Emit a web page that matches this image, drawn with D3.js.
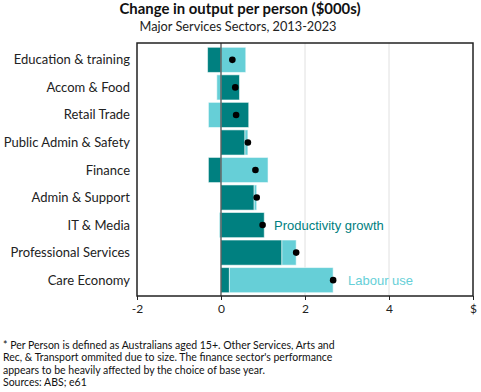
<!DOCTYPE html>
<html>
<head>
<meta charset="utf-8">
<script src="https://cdn.jsdelivr.net/npm/d3@7"></script>
<style>
  html, body { margin: 0; padding: 0; background: #fff; }
  svg { display: block; font-family: Lato, "Open Sans", sans-serif; }
</style>
</head>
<body>
<svg id="chart" width="481" height="392"></svg>
<script>
const categories = ["Education & training", "Accom & Food", "Retail Trade", "Public Admin & Safety", "Finance", "Admin & Support", "IT & Media", "Professional Services", "Care Economy"];
const productivity = [-0.32, 0.44, 0.66, 0.57, -0.30, 0.79, 1.03, 1.45, 0.20];
const labourUse = [0.59, -0.10, -0.30, 0.07, 1.12, 0.06, -0.04, 0.34, 2.47];
const seriesNames = ["Productivity growth", "Labour use"];
const xTicks = [-2, 0, 2, 4, 6];
const xTickLabels = ["-2", "0", "2", "4", "$"];
const footnote = [
  "* Per Person is defined as Australians aged 15+. Other Services, Arts and",
  "Rec, & Transport ommited due to size. The finance sector's performance",
  "appears to be heavily affected by the choice of base year.",
  "Sources: ABS; e61"
];

const colors = {"Productivity growth": "#008080", "Labour use": "#66cfd7"};

const svg = d3.select("#chart");
const W = 481, H = 392;
const m = {left: 137, right: 8, top: 43, bottom: 96};
const x = d3.scaleLinear().domain([-2, 6]).range([m.left, W - m.right]);
const y = d3.scaleBand().domain(categories).range([46.1, 293.9]).paddingInner(0.087).paddingOuter(0.0435);

const rows = categories.map((c, i) => ({cat: c, "Productivity growth": productivity[i], "Labour use": labourUse[i]}));
const stack = d3.stack().keys(seriesNames).offset(d3.stackOffsetDiverging);
const stacked = stack(rows);

// Title
svg.append("text").attr("x", 240).attr("y", 14).attr("text-anchor", "middle")
  .attr("font-size", 14.9).attr("font-weight", "bold").attr("fill", "#111")
  .text("Change in output per person ($000s)");
svg.append("text").attr("x", 238).attr("y", 31).attr("text-anchor", "middle")
  .attr("font-size", 12.75).attr("fill", "#222")
  .text("Major Services Sectors, 2013-2023");

// gridlines
svg.append("g").selectAll("line").data([2, 4]).join("line")
  .attr("x1", d => x(d)).attr("x2", d => x(d))
  .attr("y1", m.top).attr("y2", H - m.bottom)
  .attr("stroke", "#e0e0e0").attr("stroke-width", 1);

// bars
svg.append("g").selectAll("g").data(stacked).join("g")
  .attr("fill", d => colors[d.key])
  .selectAll("rect").data(d => d).join("rect")
  .attr("x", d => x(Math.min(d[0], d[1])))
  .attr("width", d => Math.abs(x(d[1]) - x(d[0])))
  .attr("y", d => y(d.data.cat))
  .attr("height", y.bandwidth())
  .attr("stroke", "rgba(255,255,255,0.55)").attr("stroke-width", 1);

// zero line
svg.append("line").attr("x1", x(0)).attr("x2", x(0))
  .attr("y1", m.top).attr("y2", H - m.bottom)
  .attr("stroke", "#444").attr("stroke-width", 1.2);

// dots (totals)
svg.append("g").selectAll("circle").data(rows).join("circle")
  .attr("cx", d => x(d["Productivity growth"] + d["Labour use"]))
  .attr("cy", d => y(d.cat) + y.bandwidth() / 2)
  .attr("r", 3.3).attr("fill", "#000");

// frame
svg.append("rect").attr("x", m.left).attr("y", m.top)
  .attr("width", W - m.left - m.right).attr("height", H - m.top - m.bottom)
  .attr("fill", "none").attr("stroke", "#222").attr("stroke-width", 1.5);

// x axis
const xAxis = d3.axisBottom(x).tickValues(xTicks).tickFormat((d, i) => xTickLabels[i]).tickSize(4).tickSizeOuter(0);
const gx = svg.append("g").attr("transform", `translate(0,${H - m.bottom})`).call(xAxis);
gx.select(".domain").remove();
gx.selectAll("line").attr("stroke", "#222");
gx.selectAll("text").attr("font-size", 12).attr("fill", "#222").attr("font-family", "Lato, sans-serif").attr("dy", "0.8em");

// y labels
svg.append("g").selectAll("text").data(categories).join("text")
  .attr("x", 130).attr("y", d => y(d) + y.bandwidth() / 2)
  .attr("dy", "0.35em").attr("text-anchor", "end")
  .attr("font-size", 13).attr("fill", "#222").text(d => d);

// series annotations
svg.append("text").attr("x", 274).attr("y", y("IT & Media") + y.bandwidth() / 2)
  .attr("dy", "0.35em").attr("font-size", 13).attr("font-family", "'Liberation Sans', Arial, sans-serif")
  .attr("fill", colors["Productivity growth"]).text("Productivity growth");
svg.append("text").attr("x", 348).attr("y", y("Care Economy") + y.bandwidth() / 2)
  .attr("dy", "0.35em").attr("font-size", 13).attr("font-family", "'Liberation Sans', Arial, sans-serif")
  .attr("fill", colors["Labour use"]).text("Labour use");

// footnote
svg.append("g").selectAll("text").data(footnote).join("text")
  .attr("x", 3).attr("y", (d, i) => 349 + i * 12.3)
  .attr("font-size", 10.5).attr("fill", "#111").text(d => d);
</script>
</body>
</html>
